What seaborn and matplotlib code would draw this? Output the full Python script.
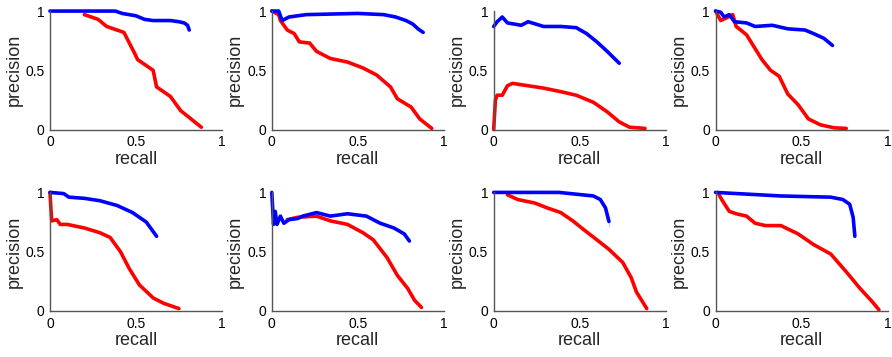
import pandas as pd
import seaborn as sns
import matplotlib
matplotlib.use("Agg")
import matplotlib.pyplot as plt

# precision-recall curves (blue = method A, red = method B)
blue1_r = [0, 0.38, 0.42, 0.5, 0.55, 0.6, 0.7, 0.75, 0.78, 0.8, 0.81]
blue1_p = [1, 1, 0.98, 0.96, 0.93, 0.92, 0.92, 0.91, 0.9, 0.88, 0.84]
red1_r = [0.2, 0.28, 0.33, 0.43, 0.49, 0.51, 0.6, 0.62, 0.7, 0.76, 0.82, 0.88]
red1_p = [0.97, 0.93, 0.87, 0.82, 0.65, 0.59, 0.5, 0.36, 0.28, 0.16, 0.09, 0.02]

blue2_r = [0, 0.04, 0.06, 0.1, 0.2, 0.5, 0.65, 0.72, 0.78, 0.82, 0.85, 0.88]
blue2_p = [1, 1, 0.92, 0.95, 0.97, 0.98, 0.97, 0.95, 0.92, 0.89, 0.85, 0.82]
red2_r = [0, 0.04, 0.05, 0.09, 0.13, 0.16, 0.22, 0.26, 0.34, 0.44, 0.53, 0.61, 0.69, 0.73, 0.81, 0.86, 0.93]
red2_p = [1, 0.97, 0.92, 0.84, 0.81, 0.74, 0.73, 0.66, 0.6, 0.57, 0.52, 0.46, 0.36, 0.26, 0.19, 0.09, 0.01]

blue3_r = [0, 0, 0.02, 0.05, 0.08, 0.16, 0.2, 0.29, 0.39, 0.48, 0.54, 0.6, 0.66, 0.73]
blue3_p = [0.75, 0.99, 0.91, 0.95, 0.9, 0.88, 0.91, 0.87, 0.87, 0.86, 0.81, 0.74, 0.66, 0.56]
red3_r = [0, 0.01, 0.02, 0.05, 0.08, 0.11, 0.2, 0.29, 0.39, 0.48, 0.58, 0.66, 0.73, 0.79, 0.88]
red3_p = [0, 0.25, 0.29, 0.29, 0.37, 0.39, 0.37, 0.35, 0.32, 0.29, 0.23, 0.15, 0.065, 0.02, 0.01]

blue4_r = [0, 0.03, 0.05, 0.08, 0.11, 0.18, 0.23, 0.33, 0.42, 0.52, 0.57, 0.63, 0.68]
blue4_p = [1, 0.99, 0.95, 0.97, 0.91, 0.9, 0.87, 0.88, 0.85, 0.84, 0.81, 0.77, 0.71]
red4_r = [0, 0.03, 0.06, 0.1, 0.12, 0.18, 0.21, 0.27, 0.32, 0.37, 0.42, 0.48, 0.54, 0.61, 0.69, 0.76]
red4_p = [1, 0.92, 0.94, 0.97, 0.87, 0.8, 0.73, 0.59, 0.5, 0.45, 0.3, 0.21, 0.09, 0.04, 0.015, 0.01]

blue5_r = [0, 0.08, 0.11, 0.2, 0.29, 0.39, 0.48, 0.56, 0.62]
blue5_p = [1, 0.99, 0.96, 0.95, 0.93, 0.89, 0.83, 0.75, 0.63]
red5_r = [0, 0.01, 0.04, 0.06, 0.1, 0.2, 0.29, 0.35, 0.41, 0.46, 0.52, 0.6, 0.66, 0.75]
red5_p = [1, 0.76, 0.77, 0.73, 0.73, 0.7, 0.66, 0.62, 0.5, 0.36, 0.22, 0.11, 0.065, 0.02]

blue6_r = [0, 0.01, 0.02, 0.03, 0.05, 0.07, 0.1, 0.15, 0.18, 0.26, 0.34, 0.44, 0.55, 0.63, 0.71, 0.77, 0.8]
blue6_p = [1, 0.73, 0.84, 0.73, 0.8, 0.74, 0.77, 0.78, 0.8, 0.83, 0.8, 0.82, 0.8, 0.74, 0.7, 0.65, 0.59]
red6_r = [0.09, 0.15, 0.26, 0.34, 0.44, 0.53, 0.59, 0.67, 0.73, 0.79, 0.83, 0.87]
red6_p = [0.77, 0.79, 0.8, 0.76, 0.73, 0.66, 0.6, 0.45, 0.3, 0.19, 0.09, 0.03]

blue7_r = [0, 0.38, 0.58, 0.62, 0.65, 0.67, 0.67]
blue7_p = [1, 1, 0.97, 0.94, 0.87, 0.8, 0.71]
red7_r = [0.08, 0.14, 0.24, 0.31, 0.39, 0.46, 0.52, 0.6, 0.67, 0.75, 0.8, 0.83, 0.89]
red7_p = [0.98, 0.94, 0.91, 0.87, 0.83, 0.76, 0.69, 0.6, 0.52, 0.41, 0.28, 0.16, 0.02]

blue8_r = [0, 0.38, 0.67, 0.74, 0.78, 0.8, 0.81]
blue8_p = [1, 0.97, 0.96, 0.94, 0.9, 0.79, 0.63]
red8_r = [0.02, 0.04, 0.08, 0.12, 0.18, 0.23, 0.29, 0.38, 0.48, 0.57, 0.67, 0.76, 0.84, 0.91, 0.95]
red8_p = [0.98, 0.93, 0.84, 0.82, 0.8, 0.74, 0.72, 0.72, 0.65, 0.56, 0.48, 0.33, 0.19, 0.08, 0.01]

blue_curves = [(blue1_r, blue1_p), (blue2_r, blue2_p), (blue3_r, blue3_p), (blue4_r, blue4_p),
               (blue5_r, blue5_p), (blue6_r, blue6_p), (blue7_r, blue7_p), (blue8_r, blue8_p)]
red_curves = [(red1_r, red1_p), (red2_r, red2_p), (red3_r, red3_p), (red4_r, red4_p),
              (red5_r, red5_p), (red6_r, red6_p), (red7_r, red7_p), (red8_r, red8_p)]

sns.set_style("white")
plt.rcParams["font.family"] = ["Liberation Sans", "DejaVu Sans"]

fig, axes = plt.subplots(2, 4, figsize=(8.92, 3.57), dpi=100)
fig.subplots_adjust(left=0.056, right=0.995, top=0.969, bottom=0.129, wspace=0.29, hspace=0.53)

for i, ax in enumerate(axes.flat):
    for (r, p), color in [(red_curves[i], "#ff0000"), (blue_curves[i], "#0000ff")]:
        df = pd.DataFrame({"recall": r, "precision": p})
        sns.lineplot(data=df, x="recall", y="precision", sort=False, color=color,
                     linewidth=2.6, ax=ax, clip_on=False)
    ax.set_xlim(0, 1)
    ax.set_ylim(0, 1)
    ax.set_xticks([0, 0.5, 1])
    ax.set_xticklabels(["0", "0.5", "1"])
    ax.set_yticks([0, 0.5, 1])
    ax.set_yticklabels(["0", "0.5", "1"])
    ax.tick_params(length=2, direction="in", labelsize=10, pad=4, colors="black")
    ax.set_xlabel("recall", fontsize=13, labelpad=1)
    ax.set_ylabel("precision", fontsize=13, labelpad=2)
    sns.despine(ax=ax)
    for s in ["left", "bottom"]:
        ax.spines[s].set_color("#555555")
        ax.spines[s].set_linewidth(1.0)

fig.savefig("out.png", dpi=100)
